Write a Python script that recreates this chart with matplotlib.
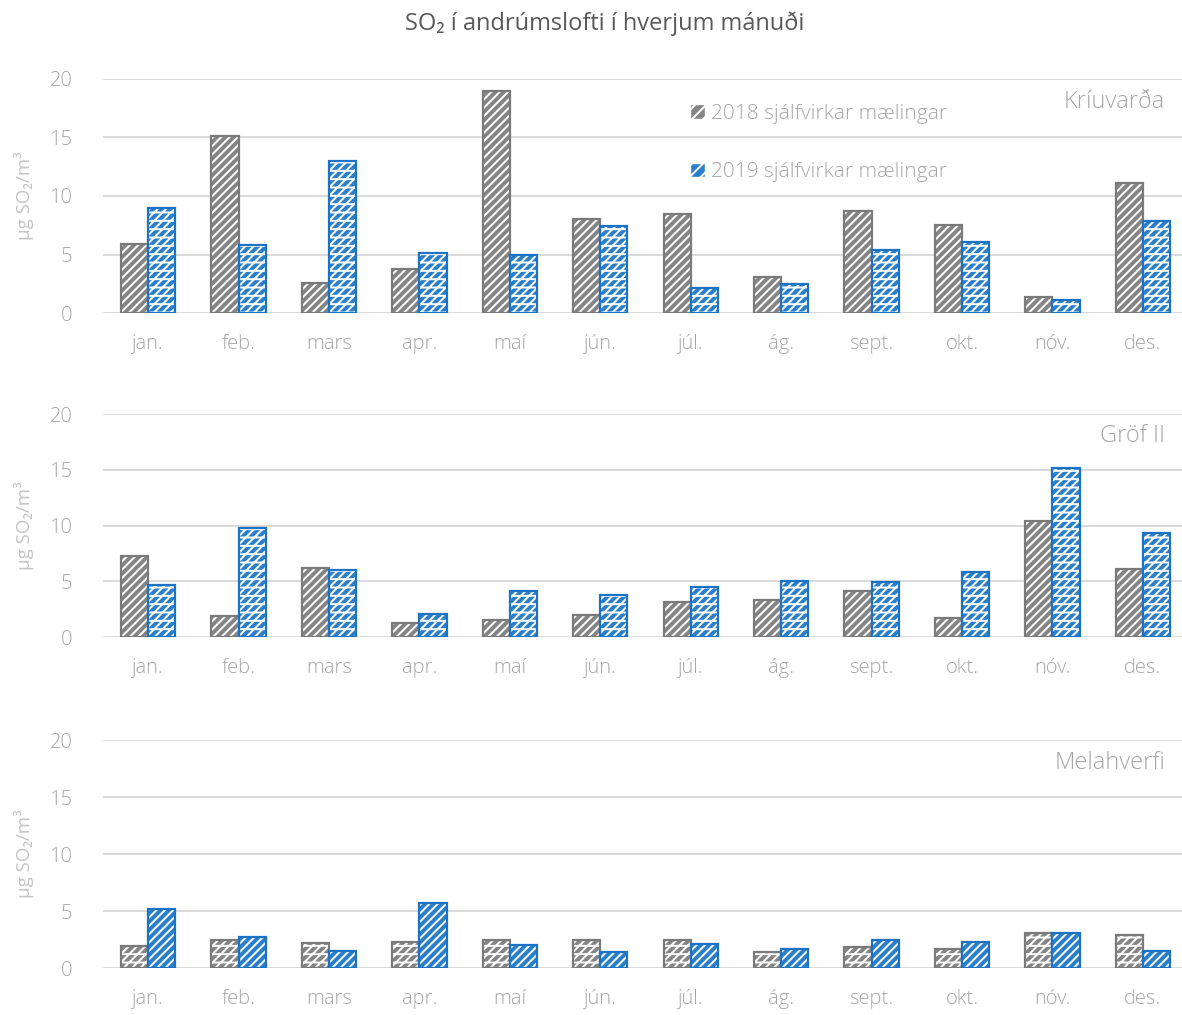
import numpy as np
import matplotlib
matplotlib.use("Agg")
import matplotlib.pyplot as plt
from matplotlib.patches import Patch

months = ["jan.", "feb.", "mars", "apr.", "maí", "jún.", "júl.", "ág.",
          "sept.", "okt.", "nóv.", "des."]
stations = ["Kríuvarða", "Gröf II", "Melahverfi"]

# 2018 / 2019 sjálfvirkar mælingar, µg SO2/m3
kriu_2018 = [5.9, 15.1, 2.6, 3.8, 19.0, 8.0, 8.5, 3.1, 8.7, 7.5, 1.4, 11.1]
kriu_2019 = [9.0, 5.8, 13.0, 5.1, 5.0, 7.4, 2.1, 2.5, 5.4, 6.1, 1.1, 7.9]
grof_2018 = [7.3, 1.9, 6.2, 1.3, 1.5, 2.0, 3.1, 3.3, 4.1, 1.7, 10.4, 6.1]
grof_2019 = [4.7, 9.8, 6.0, 2.1, 4.1, 3.8, 4.5, 5.0, 4.9, 5.8, 15.2, 9.3]
mela_2018 = [1.9, 2.5, 2.2, 2.3, 2.5, 2.5, 2.5, 1.4, 1.8, 1.7, 3.1, 2.9]
mela_2019 = [5.2, 2.7, 1.45, 5.7, 2.0, 1.4, 2.1, 1.7, 2.5, 2.3, 3.1, 1.5]

series = [(kriu_2018, kriu_2019), (grof_2018, grof_2019), (mela_2018, mela_2019)]

GRAY = "#858585"; GRAY_E = "#7a7a7a"
BLUE = "#2a7fcb"; BLUE_E = "#1c72c4"
TXT = "#a6a6a6"; GRID = "#d9d9d9"
FONT = ["Open Sans", "DejaVu Sans"]

plt.rcParams.update({"font.family": FONT, "font.weight": "light",
                     "hatch.linewidth": 1.4})

fig = plt.figure(figsize=(11.82, 10.15), dpi=100)
fig.patch.set_facecolor("white")

# axes boxes (left, bottom, width, height) in figure fraction
boxes = [(0.0871, 0.6916, 0.918, 0.2306),
         (0.0871, 0.3724, 0.918, 0.2197),
         (0.0871, 0.0463, 0.918, 0.2246)]
hatch_2018 = ["////", "////", "////--"]
hatch_2019 = ["////--", "////--", "////"]

x = np.arange(len(months))
w = 0.3


def hbar(ax, xs, vals, face, edge, hatch):
    # colored fill with white hatch, then a colored outline on top
    ax.bar(xs, vals, w, color=face, edgecolor="white", hatch=hatch,
           linewidth=0, zorder=2)
    ax.bar(xs, vals, w, fill=False, edgecolor=edge, linewidth=1.6, zorder=3)


for i, (ax_box, (s18, s19), name) in enumerate(zip(boxes, series, stations)):
    ax = fig.add_axes(ax_box)
    hbar(ax, x - w / 2, s18, GRAY, GRAY_E, hatch_2018[i])
    hbar(ax, x + w / 2, s19, BLUE, BLUE_E, hatch_2019[i])
    ax.set_xlim(-0.5, 11.5)
    ax.set_ylim(0, 20)
    ax.set_yticks([0, 5, 10, 15, 20])
    ax.set_xticks(x)
    ax.set_xticklabels(months)
    ax.tick_params(length=0, labelsize=14.5, colors=TXT)
    ax.tick_params(axis="x", pad=15)
    ax.tick_params(axis="y", pad=22)
    for sp in ax.spines.values():
        sp.set_visible(False)
    ax.grid(axis="y", color=GRID, lw=1.4, zorder=0)
    ax.set_axisbelow(True)
    ax.text(0.979, 0.9, name, transform=ax.transAxes, ha="right", va="center",
            fontsize=17, color=TXT)
    ax.set_ylabel("µg SO₂/m³", fontsize=13.5, color="#c4c4c4")
    ax.yaxis.set_label_coords(-0.064, 0.5)
    if i == 0:
        handles = [Patch(facecolor=GRAY, edgecolor="white", hatch="///"),
                   Patch(facecolor=BLUE, edgecolor="white", hatch="///")]
        ax.legend(handles, ["2018 sjálfvirkar mælingar", "2019 sjálfvirkar mælingar"],
                  loc="upper left", bbox_to_anchor=(0.524, 0.975), frameon=False,
                  fontsize=15, labelcolor=TXT, labelspacing=1.85,
                  handlelength=0.7, handleheight=0.7, handletextpad=0.3)

fig.text(0.512, 0.977, "SO₂ í andrúmslofti í hverjum mánuði", ha="center",
         va="center", fontsize=17, color="#595959", fontweight="normal")

fig.savefig("out.png", dpi=100, facecolor="white")
